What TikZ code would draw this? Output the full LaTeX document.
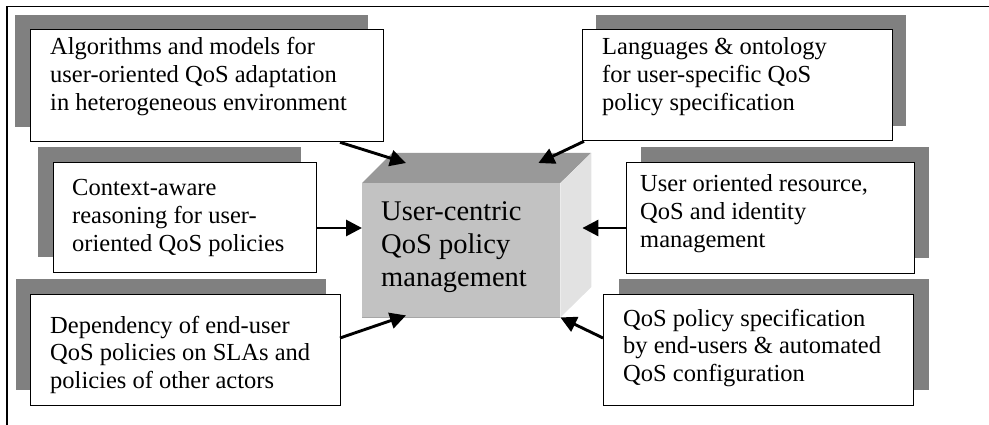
\documentclass[tikz,border=0pt]{standalone}
\usepackage{fontspec}
\setmainfont{Liberation Serif}
\usetikzlibrary{arrows.meta,calc}
\definecolor{shadowgray}{HTML}{808080}
\definecolor{cubefront}{HTML}{C2C2C2}
\definecolor{cubetop}{HTML}{999999}
\definecolor{cubeside}{HTML}{E2E2E2}
\definecolor{cubeedge}{HTML}{A6A6A6}
\begin{document}
\begin{tikzpicture}[x=1pt,y=-1pt,
  shadowfill/.style={fill=shadowgray},
  topicbox/.style={draw=black, line width=1.3pt, fill=white, rectangle,
    inner sep=0pt, anchor=north west},
  topictext/.style={anchor=base west, inner sep=0pt,
    font=\fontsize{24.5}{27.6}\selectfont},
  cubetext/.style={anchor=base west, inner sep=0pt,
    font=\fontsize{28.5}{33}\selectfont},
  conn/.style={line width=2.9pt, -{Triangle[length=16pt,width=16pt]}},
]
\useasboundingbox (0,0) rectangle (989,425);
% outer frame
\draw[line width=1.3pt] (7,425) -- (7,6.5) -- (989,6.5);

% shadows behind the topic boxes
\fill[shadowfill] (15,15) rectangle (368,127);
\fill[shadowfill] (596,15) rectangle (906,126);
\fill[shadowfill] (38,147) rectangle (301,257);
\fill[shadowfill] (641,147) rectangle (929,258);
\fill[shadowfill] (16,279) rectangle (326,390);
\fill[shadowfill] (619,279) rectangle (929,390);

% topic boxes
\node[topicbox, minimum width=353pt, minimum height=112pt] (b1) at (30,29) {};
\node[topicbox, minimum width=310pt, minimum height=111pt] (b2) at (582,29) {};
\node[topicbox, minimum width=263pt, minimum height=110pt] (b3) at (53,162) {};
\node[topicbox, minimum width=288pt, minimum height=111pt] (b4) at (626,162) {};
\node[topicbox, minimum width=310pt, minimum height=111pt] (b5) at (30,294) {};
\node[topicbox, minimum width=310pt, minimum height=111pt] (b6) at (603,294) {};

\node[topictext] (t1) at (50,55) {\parbox[t]{330pt}{\raggedright
  Algorithms and models for\\user-oriented QoS adaptation\\in heterogeneous environment}};
\node[topictext] (t2) at (602,55) {\parbox[t]{280pt}{\raggedright
  Languages \& ontology\\for user-specific QoS\\policy specification}};
\node[topictext] (t3) at (72,196) {\parbox[t]{240pt}{\raggedright
  Context-aware\\reasoning for user-\\oriented QoS policies}};
\node[topictext] (t4) at (640,192) {\parbox[t]{270pt}{\raggedright
  User oriented resource,\\QoS and identity\\management}};
\node[topictext] (t5) at (50,333) {\parbox[t]{290pt}{\raggedright
  Dependency of end-user\\QoS policies on SLAs and\\policies of other actors}};
\node[topictext] (t6) at (623,326) {\parbox[t]{290pt}{\raggedright
  QoS policy specification\\by end-users \& automated\\QoS configuration}};

% central cube
\node[fill=cubefront, inner sep=0pt, anchor=north west,
  minimum width=198pt, minimum height=134pt] (cube) at (362,183) {};
\fill[cubetop] (cube.north west) -- ++(30,-30) -- ++(199,0) -- (cube.north east) -- cycle;
\fill[cubeside] (cube.north east) -- ++(31,-30) -- ++(0,134) -- (cube.south east) -- cycle;
\draw[cubeedge, line width=1.2pt] (cube.south west) -- (cube.south east);
\node[cubetext] (ct) at (381,221) {\parbox[t]{180pt}{\raggedright
  User-centric\\QoS policy\\management}};

% arrow targets on the cube
\coordinate (p1) at ($(cube.north west)+(44,-20)$);
\coordinate (p2) at ($(cube.north east)+(-22,-20)$);
\coordinate (p3) at ($(cube.north west)+(0,45)$);
\coordinate (p4) at ($(cube.north east)+(22,45)$);
\coordinate (p5) at ($(cube.south west)+(44,-2)$);
\coordinate (p6) at (cube.south east);

% connectors
\draw[conn] ($(b1.south west)+(310,0)$) -- (p1);
\draw[conn] ($(b2.south west)+(2,0)$) -- (p2);
\draw[conn] ($(b3.north east)+(0,66)$) -- (p3);
\draw[conn] ($(b4.north west)+(0,66)$) -- (p4);
\draw[conn] ($(b5.north west)+(310,44)$) -- (p5);
\draw[conn] ($(b6.north west)+(0,44)$) -- (p6);
\end{tikzpicture}
\end{document}
